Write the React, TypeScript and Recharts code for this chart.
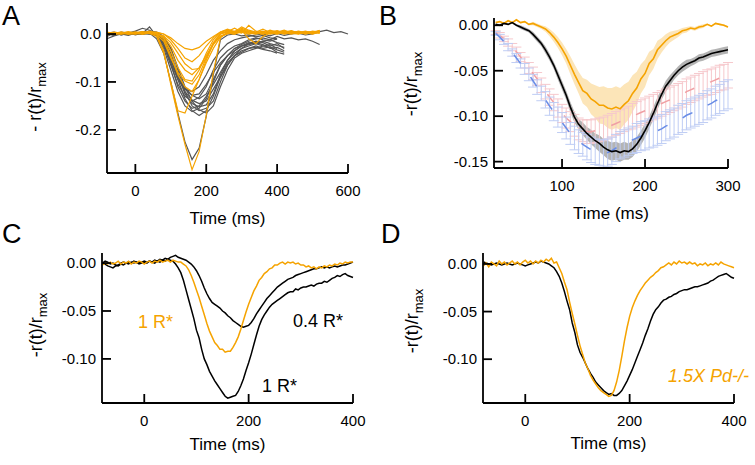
import React from "react";
import {
  LineChart,
  ComposedChart,
  Line,
  Area,
  XAxis,
  YAxis,
  ErrorBar,
} from "recharts";

const _ = null;
const FONT = "'Liberation Sans', Arial, Helvetica, sans-serif";
const ORANGE = "#f5a300";
const GRAY = "#555555";

// ---------- panel A: single-photon responses (gray) and Pd-/- responses (orange) ----------
const tA = [
  -80, -60, -40, -20, 0, 20, 40, 60, 80, 100, 120, 140, 160, 180, 200, 220, 240, 260, 280, 300, 320,
  340, 360, 380, 400, 420, 440, 460, 480, 500, 520, 540, 560, 580, 600,
];

const grayA = [
  [0.0, 0.003, -0.002, 0.002, 0.0, 0.004, 0.002,
    -0.01, -0.04, -0.1, -0.165, -0.225, -0.262, -0.238,
    -0.172, -0.085, -0.012, -0.002, 0.0, -0.004, -0.002,
    -0.006, -0.003, -0.008, -0.01, _, _, _,
    _, _, _, _, _, _, _],
  [-0.005, 0.002, 0.0, -0.003, 0.002, 0.0, 0.005,
    0.0, -0.015, -0.05, -0.095, -0.135, -0.16, -0.17,
    -0.16, -0.13, -0.09, -0.06, -0.045, -0.038, -0.03,
    -0.028, -0.032, -0.035, -0.04, _, _, _,
    _, _, _, _, _, _, _],
  [0.002, -0.003, 0.003, 0.0, 0.004, 0.001, 0.015,
    -0.005, -0.03, -0.075, -0.12, -0.15, -0.162, -0.155,
    -0.135, -0.1, -0.065, -0.045, -0.03, -0.025, -0.022,
    -0.018, -0.022, -0.03, -0.028, -0.035, _, _,
    _, _, _, _, _, _, _],
  [-0.01, -0.004, 0.0, 0.003, -0.002, 0.002, 0.0,
    0.002, -0.01, -0.04, -0.085, -0.125, -0.145, -0.152,
    -0.148, -0.125, -0.085, -0.055, -0.035, -0.025, -0.018,
    -0.02, -0.015, -0.012, -0.018, -0.022, _, _,
    _, _, _, _, _, _, _],
  [0.003, 0.0, 0.004, 0.002, 0.006, 0.012, 0.008,
    -0.002, -0.025, -0.065, -0.105, -0.13, -0.14, -0.132,
    -0.11, -0.075, -0.05, -0.035, -0.025, -0.02, -0.012,
    -0.008, -0.012, -0.015, -0.01, _, _, _,
    _, _, _, _, _, _, _],
  [0.0, 0.002, -0.002, 0.001, -0.001, 0.003, 0.002,
    0.0, -0.008, -0.03, -0.07, -0.11, -0.14, -0.158,
    -0.165, -0.15, -0.11, -0.075, -0.05, -0.04, -0.035,
    -0.03, -0.025, -0.028, -0.038, -0.042, _, _,
    _, _, _, _, _, _, _],
  [-0.003, 0.001, 0.002, -0.001, 0.003, 0.0, 0.004,
    0.0, -0.02, -0.055, -0.09, -0.115, -0.128, -0.125,
    -0.105, -0.08, -0.06, -0.045, -0.03, -0.022, -0.015,
    -0.01, -0.008, -0.012, -0.005, -0.01, -0.008, -0.012,
    -0.01, -0.015, -0.022, _, _, _, _],
  [0.002, 0.004, 0.0, 0.002, 0.001, 0.005, 0.003,
    0.001, -0.018, -0.06, -0.11, -0.14, -0.155, -0.15,
    -0.13, -0.105, -0.08, -0.055, -0.04, -0.03, -0.025,
    -0.02, -0.025, -0.022, -0.03, _, _, _,
    _, _, _, _, _, _, _],
  [0.0, -0.002, 0.003, 0.0, 0.002, -0.001, 0.002,
    -0.002, -0.012, -0.045, -0.09, -0.12, -0.138, -0.145,
    -0.14, -0.115, -0.09, -0.065, -0.045, -0.03, -0.02,
    -0.015, -0.018, -0.025, -0.02, -0.03, _, _,
    _, _, _, _, _, _, _],
  [0.0, 0.002, 0.0, 0.003, 0.001, 0.002, 0.0,
    0.0, -0.02, -0.06, -0.095, -0.115, -0.12, -0.11,
    -0.085, -0.055, -0.035, -0.02, -0.012, -0.008, -0.005,
    -0.002, 0.0, -0.004, 0.001, -0.003, 0.0, 0.002,
    -0.002, 0.0, 0.005, 0.008, 0.003, 0.005, 0.0],
  [0.001, -0.003, 0.002, 0.0, 0.003, 0.001, 0.006,
    0.004, -0.005, -0.03, -0.075, -0.12, -0.15, -0.16,
    -0.155, -0.14, -0.1, -0.065, -0.045, -0.035, -0.03,
    -0.025, -0.03, -0.027, -0.033, -0.038, _, _,
    _, _, _, _, _, _, _],
  [-0.002, 0.001, -0.001, 0.002, 0.0, 0.003, 0.001,
    -0.003, -0.025, -0.05, -0.085, -0.112, -0.128, -0.135,
    -0.125, -0.095, -0.065, -0.045, -0.035, -0.025, -0.02,
    -0.018, -0.015, -0.02, -0.024, -0.028, _, _,
    _, _, _, _, _, _, _],
];

const orangeA = [
  [0.002, 0.0, 0.004, 0.002, 0.0, 0.003, 0.005,
    0.0, -0.035, -0.105, -0.17, -0.23, -0.283, -0.245,
    -0.17, -0.08, -0.008, 0.003, 0.0, 0.005, 0.002,
    0.0, 0.004, 0.002, 0.006, 0.003, 0.0, 0.004,
    0.002, 0.005, 0.006, _, _, _, _],
  [0.004, 0.001, 0.003, 0.0, 0.002, 0.004, 0.001,
    -0.005, -0.04, -0.1, -0.16, -0.165, -0.13, -0.095,
    -0.06, -0.03, -0.006, 0.002, 0.0, 0.008, 0.003,
    0.001, 0.005, 0.002, 0.0, 0.004, 0.007, 0.002,
    0.004, 0.001, 0.008, _, _, _, _],
  [0.0, 0.003, 0.001, 0.004, 0.002, 0.0, 0.003,
    0.0, -0.01, -0.045, -0.085, -0.11, -0.12, -0.095,
    -0.055, -0.02, 0.0, 0.004, 0.002, 0.01, 0.004,
    0.002, 0.0, 0.005, 0.003, 0.001, 0.006, 0.003,
    0.0, 0.004, 0.002, _, _, _, _],
  [0.003, 0.0, 0.002, 0.005, 0.001, 0.004, 0.002,
    0.002, -0.008, -0.035, -0.07, -0.095, -0.098, -0.075,
    -0.04, -0.012, 0.002, 0.006, 0.003, 0.008, -0.01,
    -0.02, -0.005, 0.002, 0.004, 0.0, 0.003, 0.005,
    0.002, 0.006, 0.003, _, _, _, _],
  [-0.002, 0.002, 0.0, 0.003, 0.004, 0.001, 0.003,
    0.0, -0.005, -0.025, -0.055, -0.075, -0.085, -0.07,
    -0.045, -0.02, -0.005, 0.0, 0.005, 0.015, 0.008,
    0.004, 0.01, 0.003, 0.001, 0.005, 0.002, 0.006,
    0.003, 0.0, 0.004, _, _, _, _],
  [0.001, 0.004, 0.002, 0.0, 0.003, 0.005, 0.002,
    0.004, 0.0, -0.012, -0.03, -0.05, -0.058, -0.045,
    -0.025, -0.008, 0.004, 0.01, 0.005, 0.002, 0.018,
    0.006, 0.002, 0.008, 0.004, 0.002, 0.005, 0.001,
    0.005, 0.003, 0.007, _, _, _, _],
  [0.002, 0.0, 0.003, 0.001, 0.0, 0.002, 0.004,
    0.0, -0.004, -0.018, -0.04, -0.062, -0.074, -0.072,
    -0.05, -0.022, -0.004, 0.002, 0.006, 0.004, 0.0,
    0.003, 0.006, 0.001, 0.004, 0.008, 0.002, 0.0,
    0.004, 0.002, 0.005, _, _, _, _],
  [0.0, 0.002, 0.004, 0.001, 0.003, 0.0, 0.002,
    -0.002, -0.015, -0.05, -0.08, -0.098, -0.105, -0.085,
    -0.05, -0.018, 0.0, 0.005, 0.012, 0.004, 0.006,
    0.002, 0.004, 0.0, 0.003, 0.006, 0.004, 0.001,
    0.003, 0.005, 0.002, _, _, _, _],
  [0.003, 0.001, 0.0, 0.002, 0.004, 0.002, 0.006,
    0.003, 0.0, -0.008, -0.02, -0.03, -0.033, -0.028,
    -0.015, -0.005, 0.004, 0.008, 0.004, 0.012, 0.006,
    0.003, 0.0, 0.004, 0.007, 0.002, 0.005, 0.003,
    0.006, 0.002, 0.004, _, _, _, _],
];

// ---------- panel B: mean responses with SEM, model curves with error bars ----------
const tB = [
  20, 25, 30, 35, 40, 45, 50, 55, 60, 65, 70, 75, 80, 85, 90, 95, 100, 105, 110, 115,
  120, 125, 130, 135, 140, 145, 150, 155, 160, 165, 170, 175, 180, 185, 190, 195, 200, 205, 210, 215,
  220, 225, 230, 235, 240, 245, 250, 255, 260, 265, 270, 275, 280, 285, 290, 295, 300,
];
const bOrange = [
  0.003, 0.004, 0.002, 0.005, 0.003, 0.006, 0.003, 0.004, 0.001, 0.002,
  0.0, -0.002, -0.004, -0.008, -0.013, -0.019, -0.026, -0.034, -0.044, -0.054,
  -0.063, -0.072, -0.075, -0.081, -0.084, -0.088, -0.088, -0.091, -0.092, -0.09,
  -0.092, -0.087, -0.083, -0.075, -0.069, -0.059, -0.053, -0.042, -0.037, -0.027,
  -0.022, -0.017, -0.013, -0.011, -0.009, -0.006, -0.005, -0.003, -0.004, -0.002,
  -0.001, 0.001, -0.001, 0.002, 0.001, 0.0, -0.002,
];
const bOrangeSem = [
  0.001, 0.001, 0.001, 0.001, 0.001, 0.001, 0.001, 0.001, 0.001, 0.002,
  0.002, 0.002, 0.003, 0.004, 0.005, 0.006, 0.007, 0.008, 0.01, 0.011,
  0.012, 0.014, 0.015, 0.017, 0.018, 0.02, 0.021, 0.022, 0.023, 0.023,
  0.023, 0.022, 0.021, 0.02, 0.018, 0.016, 0.015, 0.013, 0.011, 0.01,
  0.008, 0.007, 0.006, 0.005, 0.004, 0.003, 0.003, 0.002, 0.002, 0.002,
  0.002, 0.001, 0.001, 0.001, 0.001, 0.001, 0.001,
];
const bBlack = [
  0.001, 0.0, 0.002, 0.001, 0.003, 0.0, -0.002, -0.004, -0.006, -0.01,
  -0.015, -0.02, -0.027, -0.035, -0.044, -0.055, -0.066, -0.077, -0.09, -0.101,
  -0.109, -0.114, -0.119, -0.123, -0.127, -0.13, -0.134, -0.137, -0.139, -0.138,
  -0.14, -0.138, -0.139, -0.136, -0.131, -0.124, -0.116, -0.107, -0.097, -0.086,
  -0.076, -0.067, -0.061, -0.055, -0.05, -0.046, -0.043, -0.041, -0.039, -0.036,
  -0.035, -0.033, -0.031, -0.03, -0.029, -0.028, -0.027,
];
const bBlackSem = [
  0.001, 0.001, 0.001, 0.001, 0.001, 0.001, 0.002, 0.002, 0.002, 0.003,
  0.003, 0.003, 0.004, 0.004, 0.004, 0.005, 0.005, 0.005, 0.006, 0.006,
  0.006, 0.007, 0.007, 0.008, 0.008, 0.009, 0.009, 0.01, 0.01, 0.01,
  0.01, 0.01, 0.009, 0.009, 0.008, 0.008, 0.008, 0.007, 0.007, 0.007,
  0.006, 0.006, 0.006, 0.005, 0.005, 0.005, 0.005, 0.004, 0.004, 0.004,
  0.004, 0.004, 0.004, 0.004, 0.004, 0.004, 0.004,
];
const bPink = [
  -0.008, -0.011, -0.015, -0.019, -0.024, -0.029, -0.035, -0.041, -0.047, -0.053,
  -0.059, -0.066, -0.073, -0.079, -0.085, -0.091, -0.097, -0.102, -0.106, -0.11,
  -0.114, -0.116, -0.117, -0.117, -0.116, -0.115, -0.114, -0.112, -0.11, -0.108,
  -0.106, -0.104, -0.102, -0.1, -0.098, -0.096, -0.094, -0.092, -0.09, -0.088,
  -0.086, -0.084, -0.082, -0.08, -0.078, -0.076, -0.073, -0.071, -0.069, -0.067,
  -0.065, -0.063, -0.062, -0.06, -0.058, -0.057, -0.055,
];
const bPinkErr = [
  0.002, 0.003, 0.003, 0.004, 0.004, 0.005, 0.005, 0.006, 0.006, 0.007,
  0.007, 0.008, 0.008, 0.009, 0.009, 0.01, 0.01, 0.011, 0.011, 0.012,
  0.012, 0.012, 0.013, 0.013, 0.013, 0.013, 0.013, 0.013, 0.013, 0.013,
  0.013, 0.013, 0.013, 0.014, 0.014, 0.014, 0.014, 0.014, 0.014, 0.014,
  0.014, 0.014, 0.014, 0.014, 0.014, 0.014, 0.014, 0.014, 0.014, 0.014,
  0.014, 0.014, 0.014, 0.014, 0.014, 0.014, 0.014,
];
const bBlue = [
  -0.009, -0.013, -0.018, -0.024, -0.03, -0.036, -0.042, -0.048, -0.054, -0.061,
  -0.068, -0.075, -0.082, -0.089, -0.095, -0.101, -0.107, -0.113, -0.119, -0.124,
  -0.128, -0.131, -0.134, -0.137, -0.139, -0.14, -0.141, -0.14, -0.138, -0.135,
  -0.132, -0.13, -0.128, -0.126, -0.124, -0.122, -0.121, -0.119, -0.118, -0.116,
  -0.114, -0.111, -0.109, -0.107, -0.104, -0.102, -0.099, -0.097, -0.095, -0.093,
  -0.091, -0.088, -0.086, -0.083, -0.081, -0.078, -0.076,
];
const bBlueErr = [
  0.002, 0.003, 0.003, 0.004, 0.004, 0.005, 0.005, 0.006, 0.007, 0.007,
  0.008, 0.008, 0.009, 0.01, 0.01, 0.011, 0.011, 0.012, 0.012, 0.013,
  0.013, 0.013, 0.014, 0.014, 0.014, 0.014, 0.015, 0.015, 0.015, 0.015,
  0.015, 0.015, 0.015, 0.015, 0.016, 0.016, 0.016, 0.016, 0.016, 0.016,
  0.016, 0.016, 0.016, 0.016, 0.016, 0.016, 0.016, 0.016, 0.016, 0.016,
  0.016, 0.016, 0.016, 0.016, 0.016, 0.016, 0.016,
];

// ---------- panels C and D: time base shared, 5 ms steps ----------
const tCD = [
  -80, -75, -70, -65, -60, -55, -50, -45, -40, -35,
  -30, -25, -20, -15, -10, -5, 0, 5, 10, 15,
  20, 25, 30, 35, 40, 45, 50, 55, 60, 65,
  70, 75, 80, 85, 90, 95, 100, 105, 110, 115,
  120, 125, 130, 135, 140, 145, 150, 155, 160, 165,
  170, 175, 180, 185, 190, 195, 200, 205, 210, 215,
  220, 225, 230, 235, 240, 245, 250, 255, 260, 265,
  270, 275, 280, 285, 290, 295, 300, 305, 310, 315,
  320, 325, 330, 335, 340, 345, 350, 355, 360, 365,
  370, 375, 380, 385, 390, 395, 400,
];

const cOrange1R = [
  -0.002, 0.0, -0.001, 0.001, -0.001, 0.0, 0.002, -0.001, 0.001, 0.0,
  0.002, -0.001, 0.001, 0.0, 0.002, 0.001, -0.001, 0.001, 0.002, 0.0,
  0.002, 0.001, 0.003, 0.001, 0.002, 0.003, 0.001, 0.003, 0.002, 0.001,
  0.001, -0.001, -0.003, -0.007, -0.013, -0.02, -0.028, -0.036, -0.045, -0.054,
  -0.063, -0.071, -0.077, -0.083, -0.086, -0.09, -0.09, -0.093, -0.092, -0.092,
  -0.088, -0.083, -0.077, -0.069, -0.06, -0.051, -0.043, -0.036, -0.029, -0.024,
  -0.018, -0.015, -0.011, -0.009, -0.006, -0.005, -0.002, -0.002, 0.0, 0.001,
  -0.001, 0.001, 0.0, 0.001, -0.001, 0.0, -0.002, -0.002, -0.004, -0.003,
  -0.005, -0.004, -0.006, -0.004, -0.005, -0.003, -0.004, -0.002, -0.003, -0.001,
  -0.002, 0.0, -0.001, 0.001, 0.0, 0.001, 0.001,
];
const cBlack1R = [
  0.0, 0.002, 0.001, -0.001, 0.0, -0.002, -0.003, -0.001, -0.002, 0.0,
  -0.001, 0.001, 0.0, 0.001, -0.001, 0.0, 0.001, 0.0, 0.002, 0.001,
  0.0, 0.002, 0.001, 0.003, 0.002, 0.004, 0.003, 0.002, -0.001, -0.005,
  -0.01, -0.018, -0.028, -0.038, -0.048, -0.058, -0.07, -0.078, -0.09, -0.1,
  -0.106, -0.113, -0.118, -0.123, -0.127, -0.131, -0.135, -0.139, -0.141, -0.14,
  -0.139, -0.138, -0.134, -0.128, -0.121, -0.112, -0.104, -0.095, -0.085, -0.075,
  -0.066, -0.059, -0.054, -0.05, -0.046, -0.043, -0.041, -0.039, -0.037, -0.035,
  -0.033, -0.031, -0.03, -0.03, -0.027, -0.028, -0.026, -0.025, -0.025, -0.024,
  -0.023, -0.024, -0.022, -0.021, -0.021, -0.019, -0.02, -0.018, -0.016, -0.015,
  -0.013, -0.014, -0.012, -0.011, -0.013, -0.014, -0.015,
];
const cBlack04R = [
  0.001, -0.001, -0.003, -0.004, -0.005, -0.003, -0.002, 0.0, 0.001, 0.0,
  0.001, 0.0, 0.002, 0.001, 0.0, 0.001, 0.002, 0.001, 0.002, 0.001,
  0.003, 0.002, 0.004, 0.003, 0.005, 0.004, 0.006, 0.007, 0.008, 0.006,
  0.005, 0.004, 0.003, 0.001, -0.001, -0.004, -0.008, -0.013, -0.019, -0.026,
  -0.032, -0.037, -0.041, -0.043, -0.045, -0.047, -0.05, -0.052, -0.055, -0.057,
  -0.06, -0.062, -0.064, -0.066, -0.067, -0.066, -0.065, -0.062, -0.058, -0.053,
  -0.049, -0.045, -0.041, -0.037, -0.034, -0.031, -0.028, -0.025, -0.023, -0.021,
  -0.019, -0.017, -0.016, -0.015, -0.013, -0.012, -0.011, -0.01, -0.009, -0.008,
  -0.007, -0.006, -0.006, -0.005, -0.004, -0.005, -0.004, -0.005, -0.004, -0.003,
  -0.004, -0.003, -0.002, -0.002, -0.001, 0.0, 0.001,
];

const dOrangePd = [
  -0.002, 0.001, -0.003, 0.002, 0.0, -0.002, 0.003, 0.0, 0.002, -0.001,
  0.001, 0.003, 0.0, 0.002, -0.001, 0.002, 0.004, 0.001, 0.003, 0.0,
  0.003, 0.001, 0.004, 0.002, 0.005, 0.003, 0.006, 0.001, 0.002, -0.004,
  -0.01, -0.019, -0.027, -0.04, -0.052, -0.063, -0.075, -0.086, -0.095, -0.104,
  -0.11, -0.117, -0.122, -0.126, -0.13, -0.133, -0.135, -0.137, -0.139, -0.138,
  -0.133, -0.124, -0.112, -0.097, -0.081, -0.067, -0.055, -0.046, -0.039, -0.033,
  -0.028, -0.024, -0.02, -0.017, -0.014, -0.012, -0.009, -0.007, -0.004, -0.003,
  -0.001, 0.001, -0.001, 0.002, 0.0, 0.003, 0.001, 0.002, 0.0, 0.002,
  0.0, 0.001, -0.002, 0.0, -0.001, 0.001, -0.002, 0.0, -0.001, 0.001,
  -0.001, 0.002, 0.0, -0.001, -0.002, -0.003, -0.004,
];
const dBlackWT = [
  0.002, 0.001, 0.0, -0.001, 0.0, 0.001, 0.0, -0.001, 0.0, 0.001,
  0.0, -0.001, 0.0, 0.001, 0.0, -0.001, -0.002, -0.001, 0.0, 0.001,
  0.002, 0.001, 0.003, 0.002, 0.001, 0.0, -0.002, -0.004, -0.008, -0.013,
  -0.02, -0.029, -0.039, -0.048, -0.062, -0.072, -0.085, -0.093, -0.098, -0.104,
  -0.11, -0.115, -0.119, -0.124, -0.127, -0.13, -0.133, -0.135, -0.137, -0.136,
  -0.138, -0.138, -0.136, -0.133, -0.128, -0.123, -0.117, -0.111, -0.104, -0.097,
  -0.09, -0.083, -0.075, -0.068, -0.06, -0.053, -0.048, -0.045, -0.041, -0.038,
  -0.037, -0.035, -0.034, -0.032, -0.031, -0.029, -0.028, -0.027, -0.027, -0.026,
  -0.025, -0.024, -0.024, -0.023, -0.022, -0.021, -0.02, -0.018, -0.017, -0.015,
  -0.013, -0.012, -0.011, -0.01, -0.012, -0.014, -0.015,
];

// tables for recharts
const dataA = tA.map((t, i) => {
  const row: any = { t };
  grayA.forEach((s, k) => (row["g" + k] = s[i]));
  orangeA.forEach((s, k) => (row["o" + k] = s[i]));
  return row;
});

const dataB = tB.map((t, i) => ({
  t,
  orange: bOrange[i],
  orangeBand: [bOrange[i] - bOrangeSem[i], bOrange[i] + bOrangeSem[i]],
  black: bBlack[i],
  blackBand: [bBlack[i] - bBlackSem[i], bBlack[i] + bBlackSem[i]],
  pink: bPink[i],
  pinkErr: bPinkErr[i],
  blue: bBlue[i],
  blueErr: bBlueErr[i],
}));

const dataC = tCD.map((t, i) => ({
  t,
  orange: cOrange1R[i],
  black1: cBlack1R[i],
  black04: cBlack04R[i],
}));

const dataD = tCD.map((t, i) => ({ t, orange: dOrangePd[i], black: dBlackWT[i] }));

// ---------- axes: mirrored so the tick marks point into the plot (Igor style),
// labels are pushed back outside by the custom tick renderers ----------
const TICK = 9;

const XTick = (props: any) => {
  const { x, y, payload } = props;
  return (
    <text x={x} y={y + TICK + 23} textAnchor="middle" fontSize={15} fontFamily={FONT} fill="#000">
      {payload.value}
    </text>
  );
};

const makeYTick = (digits: number) => (props: any) => {
  const { x, y, payload } = props;
  return (
    <text x={x - TICK - 6} y={y + 5} textAnchor="end" fontSize={15} fontFamily={FONT} fill="#000">
      {Number(payload.value).toFixed(digits)}
    </text>
  );
};

const PAD_L = 70;
const PAD_T = 10;
const PAD_R = 16;
const PAD_B = 40;

type Box = { l: number; t: number; r: number; b: number };

const boxA: Box = { l: 107, t: 23, r: 348, b: 173 };
const boxB: Box = { l: 494, t: 18, r: 728, b: 168 };
const boxC: Box = { l: 102, t: 253, r: 353, b: 403 };
const boxD: Box = { l: 483, t: 253, r: 734, b: 403 };

const size = (box: Box) => ({
  width: box.r - box.l + PAD_L + PAD_R,
  height: box.b - box.t + PAD_T + PAD_B,
  margin: { top: PAD_T, right: PAD_R, bottom: PAD_B, left: PAD_L },
});

const Panel = ({ box, children }: { box: Box; children: React.ReactNode }) => (
  <div style={{ position: "absolute", left: box.l - PAD_L, top: box.t - PAD_T }}>{children}</div>
);

const axisLine = { stroke: "#000", strokeWidth: 1.8 };
const tickLine = { stroke: "#000", strokeWidth: 1.8 };

const axes = (xDomain: number[], xTicks: number[], yDomain: number[], yTicks: number[], digits: number) => [
  <XAxis
    key="x"
    type="number"
    dataKey="t"
    domain={xDomain}
    ticks={xTicks}
    mirror
    axisLine={axisLine}
    tickLine={tickLine}
    tickSize={TICK}
    tickMargin={0}
    tick={XTick}
  />,
  <YAxis
    key="y"
    type="number"
    domain={yDomain}
    ticks={yTicks}
    mirror
    axisLine={axisLine}
    tickLine={tickLine}
    tickSize={TICK}
    tickMargin={0}
    tick={makeYTick(digits)}
    width={40}
  />,
];

const YTitle = ({ x, y, text }: { x: number; y: number; text: string }) => (
  <text
    x={x}
    y={y}
    transform={`rotate(-90 ${x} ${y})`}
    textAnchor="middle"
    fontSize={18}
    fontFamily={FONT}
    fill="#000"
  >
    {text}
    <tspan fontSize={13} dy={5}>
      max
    </tspan>
  </text>
);

const XTitle = ({ box, y }: { box: Box; y: number }) => (
  <text x={(box.l + box.r) / 2} y={y} textAnchor="middle" fontSize={17} fontFamily={FONT} fill="#000">
    Time (ms)
  </text>
);

export default function App() {
  return (
    <div
      style={{
        position: "absolute",
        left: 0,
        top: 0,
        width: 755,
        height: 465,
        background: "#fff",
        overflow: "hidden",
      }}
    >
      <Panel box={boxA}>
        <LineChart {...size(boxA)} data={dataA}>
          {axes([-79, 600], [0, 200, 400, 600], [-0.29, 0.023], [-0.2, -0.1, 0], 1)}
          {grayA.map((_s, k) => (
            <Line
              key={"g" + k}
              dataKey={"g" + k}
              stroke={GRAY}
              strokeWidth={1.2}
              dot={false}
              isAnimationActive={false}
            />
          ))}
          {orangeA.map((_s, k) => (
            <Line
              key={"o" + k}
              dataKey={"o" + k}
              stroke={ORANGE}
              strokeWidth={1.2}
              dot={false}
              isAnimationActive={false}
            />
          ))}
        </LineChart>
      </Panel>

      <Panel box={boxB}>
        <ComposedChart {...size(boxB)} data={dataB}>
          {axes([18, 300], [100, 200, 300], [-0.157, 0.008], [-0.15, -0.1, -0.05, 0], 2)}
          <Line
            dataKey="pink"
            stroke="#f0a0a4"
            strokeWidth={1.5}
            strokeDasharray="10 17"
            dot={false}
            isAnimationActive={false}
          >
            <ErrorBar dataKey="pinkErr" width={5} stroke="#f6c8cc" strokeWidth={1} />
          </Line>
          <Line
            dataKey="blue"
            stroke="#6a8de6"
            strokeWidth={1.5}
            strokeDasharray="11 17"
            dot={false}
            isAnimationActive={false}
          >
            <ErrorBar dataKey="blueErr" width={5} stroke="#bfcdf4" strokeWidth={1} />
          </Line>
          <Area
            dataKey="orangeBand"
            stroke="none"
            fill={ORANGE}
            fillOpacity={0.28}
            isAnimationActive={false}
          />
          <Area
            dataKey="blackBand"
            stroke="none"
            fill="#777"
            fillOpacity={0.55}
            isAnimationActive={false}
          />
          <Line dataKey="orange" stroke={ORANGE} strokeWidth={1.6} dot={false} isAnimationActive={false} />
          <Line dataKey="black" stroke="#000" strokeWidth={1.6} dot={false} isAnimationActive={false} />
        </ComposedChart>
      </Panel>

      <Panel box={boxC}>
        <LineChart {...size(boxC)} data={dataC}>
          {axes([-81, 400], [0, 200, 400], [-0.146, 0.0105], [-0.1, -0.05, 0], 2)}
          <Line dataKey="black04" stroke="#000" strokeWidth={1.5} dot={false} isAnimationActive={false} />
          <Line dataKey="black1" stroke="#000" strokeWidth={1.5} dot={false} isAnimationActive={false} />
          <Line dataKey="orange" stroke={ORANGE} strokeWidth={1.5} dot={false} isAnimationActive={false} />
        </LineChart>
      </Panel>

      <Panel box={boxD}>
        <LineChart {...size(boxD)} data={dataD}>
          {axes([-81, 400], [0, 200, 400], [-0.146, 0.0115], [-0.1, -0.05, 0], 2)}
          <Line dataKey="black" stroke="#000" strokeWidth={1.5} dot={false} isAnimationActive={false} />
          <Line dataKey="orange" stroke={ORANGE} strokeWidth={1.5} dot={false} isAnimationActive={false} />
        </LineChart>
      </Panel>

      <svg
        width={755}
        height={465}
        style={{ position: "absolute", left: 0, top: 0, pointerEvents: "none" }}
      >
        <g fontFamily={FONT} fill="#000">
          <text x={2} y={25} fontSize={27}>A</text>
          <text x={379} y={25} fontSize={27}>B</text>
          <text x={2} y={243} fontSize={27}>C</text>
          <text x={381} y={243} fontSize={27}>D</text>
        </g>
        <YTitle x={41} y={97} text="- r(t)/r" />
        <YTitle x={417} y={84} text="-r(t)/r" />
        <YTitle x={42} y={325} text="-r(t)/r" />
        <YTitle x={418} y={321} text="-r(t)/r" />
        <XTitle box={boxA} y={224} />
        <XTitle box={boxB} y={219} />
        <XTitle box={boxC} y={450} />
        <XTitle box={boxD} y={449} />
        <text x={138} y={328} fontSize={18} fontFamily={FONT} fill={ORANGE}>1 R*</text>
        <text x={293} y={327} fontSize={18} fontFamily={FONT} fill="#000">0.4 R*</text>
        <text x={262} y={392} fontSize={18} fontFamily={FONT} fill="#000">1 R*</text>
        <text x={668} y={382} fontSize={18} fontFamily={FONT} fontStyle="italic" fill={ORANGE}>
          1.5X Pd-/-
        </text>
      </svg>
    </div>
  );
}
